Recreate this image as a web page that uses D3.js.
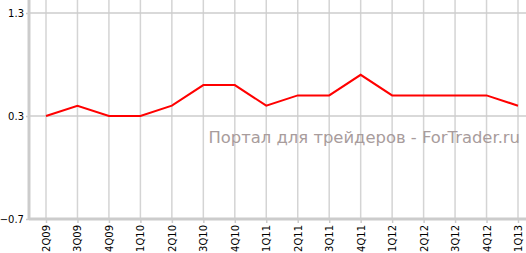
<!DOCTYPE html>
<html>
<head>
<meta charset="utf-8">
<script src="https://cdn.jsdelivr.net/npm/d3@7"></script>
<style>
  body { margin: 0; background: #fff; }
  text { font-family: "DejaVu Sans", Verdana, sans-serif; }
</style>
</head>
<body>
<div id="container"></div>
<script>
const width = 526;
const height = 253;
const margin = { top: 0, right: 5, bottom: 34, left: 29 };

const quarters = ["2Q09", "3Q09", "4Q09", "1Q10", "2Q10", "3Q10", "4Q10", "1Q11",
    "2Q11", "3Q11", "4Q11", "1Q12", "2Q12", "3Q12", "4Q12", "1Q13"];
const values = [0.3, 0.4, 0.3, 0.3, 0.4, 0.6, 0.6, 0.4,
    0.5, 0.5, 0.7, 0.5, 0.5, 0.5, 0.5, 0.4];
const yTicks = [-0.7, 0.3, 1.3];
const watermark = "Портал для трейдеров - ForTrader.ru";

const svg = d3.select("#container")
    .append('svg')
    .attr('width', width)
    .attr('height', height)
    .attr('viewBox', [0, 0, width, height]);

const x = d3.scalePoint()
    .domain(quarters)
    .range([46, 518]);

const y = d3.scaleLinear()
    .domain([-0.7, 1.3])
    .range([219, 13]);

// vertical grid
svg.append('g')
    .selectAll('line')
    .data(quarters)
    .join('line')
    .attr('x1', d => x(d))
    .attr('x2', d => x(d))
    .attr('y1', 0)
    .attr('y2', y(-0.7))
    .attr('stroke', '#d4d4d4')
    .attr('stroke-width', 1.5);

// horizontal grid
svg.append('g')
    .selectAll('line')
    .data(yTicks.slice(1))
    .join('line')
    .attr('x1', margin.left)
    .attr('x2', width)
    .attr('y1', d => y(d))
    .attr('y2', d => y(d))
    .attr('stroke', '#cccccc')
    .attr('stroke-width', 1.5);

svg.append('text')
    .attr('x', 520)
    .attr('y', 143)
    .attr('text-anchor', 'end')
    .attr('font-size', 16.4)
    .attr('fill', '#a89c9c')
    .text(watermark);

// y axis
const yAxis = svg.append('g')
    .attr('transform', `translate(${margin.left},0)`)
    .call(d3.axisLeft(y).tickValues(yTicks).tickSize(3).tickPadding(2).tickFormat(d3.format('.1f')));
yAxis.select('.domain').attr('stroke', '#cccccc').attr('stroke-width', 3)
    .attr('d', `M0,0V${y(-0.7)}`);
yAxis.selectAll('.tick line').attr('stroke', '#cccccc').attr('stroke-width', 1.5);
yAxis.selectAll('.tick text').attr('font-size', 10).attr('fill', '#000');

// x axis
const xAxis = svg.append('g')
    .attr('transform', `translate(0,${y(-0.7)})`)
    .call(d3.axisBottom(x).tickSize(4).tickPadding(4));
xAxis.select('.domain').attr('stroke', '#cccccc').attr('stroke-width', 3)
    .attr('d', `M${margin.left},0H${width}`);
xAxis.selectAll('.tick line').attr('stroke', '#cccccc').attr('stroke-width', 1.5);
xAxis.selectAll('.tick text')
    .attr('font-size', 10)
    .attr('fill', '#000')
    .attr('transform', 'rotate(-90)')
    .attr('text-anchor', 'end')
    .attr('x', -6)
    .attr('y', 0)
    .attr('dy', '0.35em');

// series
svg.append('path')
    .datum(values)
    .attr('fill', 'none')
    .attr('stroke', '#ff0000')
    .attr('stroke-width', 2)
    .attr('d', d3.line().x((d, i) => x(quarters[i])).y(d => y(d)));
</script>
</body>
</html>
